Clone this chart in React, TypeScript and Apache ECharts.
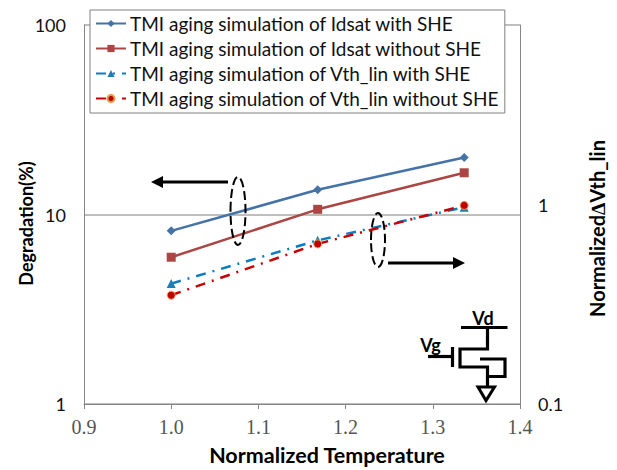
import React, { useEffect, useRef } from "react";
import * as echarts from "echarts";

const temperatures = [1.0, 1.168, 1.336];
const idsatWithShe = [8.2, 13.5, 20];
const idsatWithoutShe = [5.95, 10.65, 16.6];
const vthWithShe = [0.404, 0.667, 0.98];
const vthWithoutShe = [0.353, 0.64, 1.0];
const seriesNames = [
  "TMI aging simulation of Idsat with SHE",
  "TMI aging simulation of Idsat without SHE",
  "TMI aging simulation of Vth_lin with SHE",
  "TMI aging simulation of Vth_lin without SHE",
];
const leftTicks = [1, 10, 100];
const rightTicks = [0.1, 1];

const FONT = "Lato";
const INK = "#000";
const pair = (ys: number[]) => temperatures.map((t, i) => [t, ys[i]]);
const wire = (points: number[][], z = 20) => ({
  type: "polyline",
  z,
  shape: { points },
  style: { stroke: INK, lineWidth: 3.2, fill: "none" },
});

export default function App() {
  const ref = useRef<HTMLDivElement>(null);
  useEffect(() => {
    const chart = echarts.init(ref.current!, undefined, { renderer: "svg" });
    const dash = [10, 7, 2, 7];
    chart.setOption({
      animation: false,
      backgroundColor: "#fff",
      grid: { left: 84, right: 97, top: 25, bottom: 66, outerBoundsMode: "none" },
      xAxis: {
        type: "value",
        min: 0.9,
        max: 1.4,
        interval: 0.1,
        name: "Normalized Temperature",
        nameLocation: "middle",
        nameGap: 40,
        nameMoveOverlap: false,
        nameTextStyle: { fontFamily: FONT, fontWeight: "bold", fontSize: 21.5, color: "#000", padding: [0, 0, 0, 50] },
        axisLine: { lineStyle: { color: "#868686" } },
        axisTick: { length: 5, lineStyle: { color: "#868686" } },
        axisLabel: {
          fontFamily: "Liberation Serif",
          fontSize: 20,
          color: "#555",
          margin: 13,
          formatter: (v: number) => v.toFixed(1),
        },
        splitLine: { show: false },
      },
      yAxis: [
        {
          type: "log",
          min: 1,
          max: 100,
          name: "Degradation(%)",
          nameLocation: "middle",
          nameGap: 49,
          nameMoveOverlap: false,
          nameTextStyle: { fontFamily: FONT, fontWeight: "bold", fontSize: 18, color: "#000", padding: [0, 18, 0, 0] },
          axisLine: { show: true, lineStyle: { color: "#868686" } },
          axisTick: { show: false },
          axisLabel: {
            fontFamily: FONT,
            fontSize: 18,
            color: "#111",
            margin: 18,
            formatter: (v: number) => (leftTicks.includes(Math.round(v)) ? String(Math.round(v)) : ""),
          },
          splitLine: { show: true, lineStyle: { color: "#a8a8a8", width: 1.5 } },
          minorSplitLine: { show: false },
        },
        {
          type: "log",
          min: 0.1,
          max: 8.1,
          position: "right",
          name: "Normalized\u2206Vth_lin",
          nameLocation: "middle",
          nameGap: 67,
          nameMoveOverlap: false,
          nameTextStyle: { fontFamily: FONT, fontWeight: "bold", fontSize: 20, color: "#000", padding: [0, 28, 0, 0] },
          axisLine: { show: true, lineStyle: { color: "#868686" } },
          axisTick: { show: false },
          axisLabel: {
            fontFamily: FONT,
            fontSize: 18,
            color: "#111",
            margin: 18,
            formatter: (v: number) => {
              const hit = rightTicks.find((t) => Math.abs(t - v) < 1e-6);
              return hit === undefined ? "" : String(hit);
            },
          },
          splitLine: { show: false },
        },
      ],
      legend: {
        orient: "vertical",
        left: 90,
        top: 10,
        padding: [4, 5, 5, 5],
        itemGap: 6,
        itemWidth: 30,
        itemHeight: 9,
        backgroundColor: "#fff",
        borderColor: "#808080",
        borderWidth: 1,
        textStyle: { fontFamily: FONT, fontSize: 19, color: "#111", padding: [0, 0, 0, -1] },
        data: seriesNames,
      },
      series: [
        { name: seriesNames[0], type: "line", yAxisIndex: 0, data: pair(idsatWithShe), symbol: "diamond", symbolSize: 9, lineStyle: { color: "#4572a7", width: 2.5 }, itemStyle: { color: "#4572a7" } },
        { name: seriesNames[1], type: "line", yAxisIndex: 0, data: pair(idsatWithoutShe), symbol: "rect", symbolSize: 9, lineStyle: { color: "#aa4643", width: 2.5 }, itemStyle: { color: "#aa4643" } },
        { name: seriesNames[2], type: "line", yAxisIndex: 1, data: pair(vthWithShe), symbol: "triangle", symbolSize: 9, lineStyle: { color: "#0a7cc4", width: 2.5, type: dash }, itemStyle: { color: "#1f7fb5" } },
        { name: seriesNames[3], type: "line", yAxisIndex: 1, data: pair(vthWithoutShe), symbol: "circle", symbolSize: 8, lineStyle: { color: "#c80000", width: 2.5, type: dash }, itemStyle: { color: "#c00000", borderColor: "#e8a050", borderWidth: 1 } },
      ],
      graphic: [
        wire([[228, 182], [160, 182]]),
        { type: "polygon", z: 20, shape: { points: [[151, 182], [163, 176], [163, 188]] }, style: { fill: INK } },
        wire([[388, 263], [456, 263]]),
        { type: "polygon", z: 20, shape: { points: [[465, 263], [453, 257], [453, 269]] }, style: { fill: INK } },
        { type: "ellipse", z: 20, shape: { cx: 238, cy: 211, rx: 7.5, ry: 34 }, style: { fill: "none", stroke: INK, lineWidth: 2, lineDash: [9, 4] } },
        { type: "ellipse", z: 20, shape: { cx: 378, cy: 240, rx: 7, ry: 27 }, style: { fill: "none", stroke: INK, lineWidth: 2, lineDash: [9, 4] } },
        wire([[461, 327.5], [507.5, 327.5]]),
        wire([[487.5, 327.5], [487.5, 349], [460, 349], [460, 367], [487.5, 367], [487.5, 387]]),
        wire([[480, 359], [505, 359], [505, 376.5], [487.5, 376.5]]),
        wire([[452.5, 347], [452.5, 367]]),
        wire([[428, 356.5], [452.5, 356.5]]),
        { type: "polygon", z: 20, shape: { points: [[478, 387], [494.5, 387], [486, 400.5]] }, style: { fill: "#fff", stroke: INK, lineWidth: 3 } },
        { type: "text", z: 21, x: 483, y: 318, style: { text: "Vd", fontFamily: FONT, fontWeight: "bold", fontSize: 18, fill: INK, align: "center", verticalAlign: "middle" } },
        { type: "text", z: 21, x: 430.5, y: 345, style: { text: "Vg", fontFamily: FONT, fontWeight: "bold", fontSize: 18, fill: INK, align: "center", verticalAlign: "middle" } },
      ],
    });
    return () => chart.dispose();
  }, []);
  return <div ref={ref} style={{ position: "absolute", left: 0, top: 0, width: 617, height: 470 }} />;
}
